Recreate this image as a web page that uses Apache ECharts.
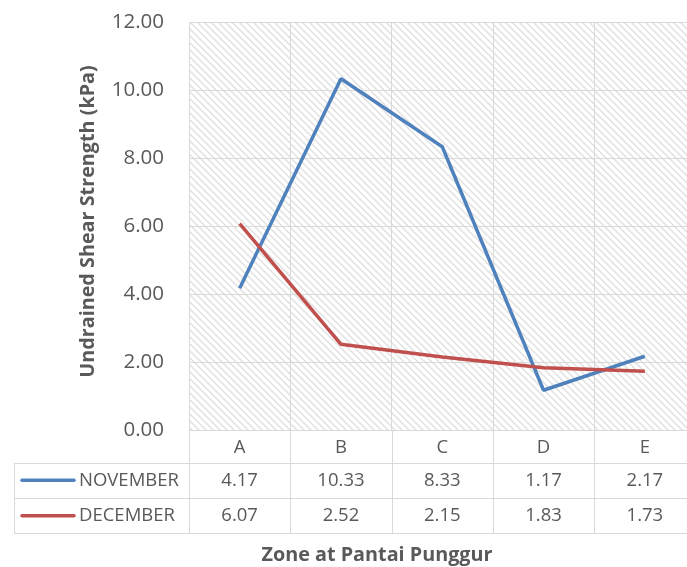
<!DOCTYPE html>
<html>
<head>
<meta charset="utf-8">
<script src="https://cdn.jsdelivr.net/npm/echarts@6/dist/echarts.min.js"></script>
<style>
  html, body { margin: 0; padding: 0; background: #fff; }
  #chart { width: 687px; height: 567px; }
</style>
</head>
<body>
<div id="chart"></div>
<script>
// Undrained shear strength per zone, two monthly campaigns
const zones = ['A', 'B', 'C', 'D', 'E'];
const november = [4.17, 10.33, 8.33, 1.17, 2.17];
const december = [6.07, 2.52, 2.15, 1.83, 1.73];
const seriesNames = ['NOVEMBER', 'DECEMBER'];
const seriesColors = ['#4F81BD', '#C0504D'];
const yTicks = [0, 2, 4, 6, 8, 10, 12];

const FONT = '"Open Sans", sans-serif';
const TEXT = '#595959';
const LINE = '#d9d9d9';

// diagonal hatch tile for the plot background
function hatchTile() {
  const s = 7;
  const c = document.createElement('canvas');
  c.width = s; c.height = s;
  const g = c.getContext('2d');
  g.fillStyle = '#ffffff';
  g.fillRect(0, 0, s, s);
  g.strokeStyle = '#e0e0e0';
  g.lineWidth = 1.4;
  g.beginPath();
  g.moveTo(-1, -1); g.lineTo(s + 1, s + 1);
  g.moveTo(-1, s - 1); g.lineTo(1, s + 1);
  g.moveTo(s - 1, -1); g.lineTo(s + 1, 1);
  g.stroke();
  return c;
}

const chart = echarts.init(document.getElementById('chart'), null, { renderer: 'canvas' });

const option = {
  animation: false,
  backgroundColor: '#ffffff',
  grid: {
    left: 189, width: 506.5, top: 22, bottom: 137,
    outerBoundsMode: 'none',
    containLabel: false,
    show: true,
    borderWidth: 0,
    backgroundColor: { image: hatchTile(), repeat: 'repeat' }
  },
  xAxis: {
    type: 'category',
    data: zones,
    boundaryGap: true,
    axisLine: { show: true, lineStyle: { color: LINE, width: 1 } },
    axisTick: { show: false },
    axisLabel: { color: TEXT, fontFamily: FONT, fontSize: 18.5, margin: 8 },
    splitLine: { show: true, lineStyle: { color: LINE, width: 1 } }
  },
  yAxis: {
    type: 'value',
    min: yTicks[0],
    max: yTicks[yTicks.length - 1],
    interval: 2,
    axisLine: { show: false },
    axisTick: { show: false },
    axisLabel: {
      color: TEXT, fontFamily: FONT, fontSize: 20.5, margin: 25,
      formatter: v => v.toFixed(2)
    },
    splitLine: { show: true, lineStyle: { color: LINE, width: 1 } }
  },
  series: [
    {
      name: seriesNames[0], type: 'line', data: november,
      symbol: 'none', lineStyle: { color: seriesColors[0], width: 3.5 },
      z: 3
    },
    {
      name: seriesNames[1], type: 'line', data: december,
      symbol: 'none', lineStyle: { color: seriesColors[1], width: 3.5 },
      z: 3
    }
  ]
};
chart.setOption(option);

// data table under the plot, aligned to the category axis
function drawTable() {
  const rect = chart.getModel().getComponent('grid').coordinateSystem.getRect();
  const x0 = rect.x, x1 = rect.x + rect.width, yAxisLine = rect.y + rect.height;
  const tableLeft = 14;
  const headerH = 32.7, rowH = 35.3;
  const rowTops = [yAxisLine + headerH, yAxisLine + headerH + rowH];
  const tableBottom = yAxisLine + headerH + 2 * rowH;
  const step = rect.width / zones.length;
  const els = [];
  const lineStyle = { stroke: LINE, lineWidth: 1 };

  // vertical separators below the axis
  for (let i = 0; i <= zones.length; i++) {
    const x = Math.round(x0 + i * step) + 0.5;
    els.push({ type: 'line', shape: { x1: x, y1: yAxisLine, x2: x, y2: tableBottom }, style: lineStyle, silent: true });
  }
  els.push({ type: 'line', shape: { x1: tableLeft + 0.5, y1: rowTops[0], x2: tableLeft + 0.5, y2: tableBottom }, style: lineStyle, silent: true });
  // horizontal rules
  [rowTops[0], rowTops[1], tableBottom].forEach(y => {
    const yy = Math.round(y) + 0.5;
    els.push({ type: 'line', shape: { x1: tableLeft, y1: yy, x2: x1, y2: yy }, style: lineStyle, silent: true });
  });

  const rows = [november, december];
  rows.forEach((vals, r) => {
    const cy = rowTops[r] + rowH / 2;
    // legend key
    els.push({
      type: 'line', shape: { x1: 22, y1: cy, x2: 74, y2: cy },
      style: { stroke: seriesColors[r], lineWidth: 3.5, lineCap: 'round' }, silent: true
    });
    els.push({
      type: 'text', x: 79, y: cy,
      style: { text: seriesNames[r], fill: TEXT, font: '18.5px ' + FONT, textAlign: 'left', textVerticalAlign: 'middle' },
      silent: true
    });
    vals.forEach((v, i) => {
      const px = chart.convertToPixel({ xAxisIndex: 0 }, zones[i]);
      els.push({
        type: 'text', x: px, y: cy,
        style: { text: v.toFixed(2), fill: TEXT, font: '18.5px ' + FONT, textAlign: 'center', textVerticalAlign: 'middle' },
        silent: true
      });
    });
  });

  // axis titles
  els.push({
    type: 'text', x: 377, y: 555,
    style: { text: 'Zone at Pantai Punggur', fill: TEXT, font: 'bold 19.8px ' + FONT, textAlign: 'center', textVerticalAlign: 'middle' },
    silent: true
  });
  els.push({
    type: 'text', x: 88, y: 221.5, rotation: Math.PI / 2,
    style: { text: 'Undrained Shear Strength (kPa)', fill: TEXT, font: 'bold 19.8px ' + FONT, textAlign: 'center', textVerticalAlign: 'middle' },
    silent: true
  });

  chart.setOption({ graphic: { elements: els } });
}
drawTable();
</script>
</body>
</html>
